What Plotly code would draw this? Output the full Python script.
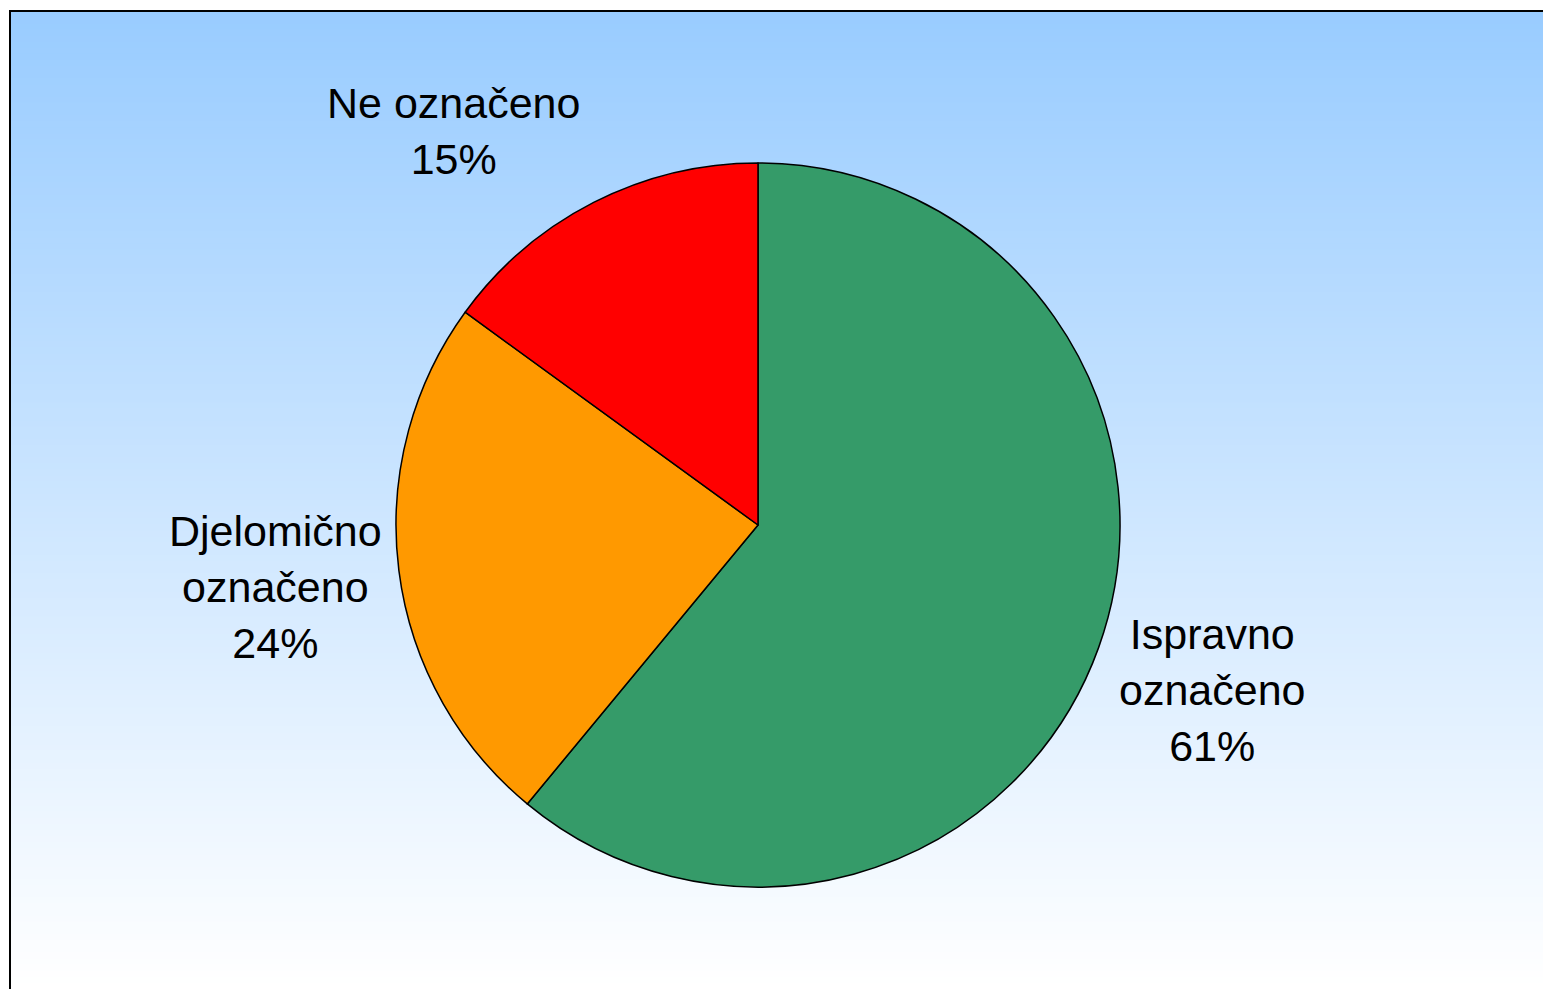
import plotly.graph_objects as go

labels = ["Ispravno<br>označeno", "Djelomično<br>označeno", "Ne označeno"]
values = [61, 24, 15]
colors = ["#359B69", "#FF9900", "#FF0000"]

# label anchor positions (pixels) for annotations
label_px = [(1212, 690), (275, 587), (453, 131)]

W, H = 1543, 989

def px(x):
    return x / W

def py(y):
    return 1 - y / H

fig = go.Figure()
fig.add_trace(go.Pie(
    labels=labels, values=values, sort=False, direction="clockwise", rotation=0,
    marker=dict(colors=colors, line=dict(color="black", width=1.5)),
    textinfo="none", hoverinfo="label+percent", showlegend=False,
    domain=dict(x=[px(396), px(1120)], y=[py(887), py(163)]),
))

shapes = []
top, bot = 11, 989
n = 160
c0 = (153, 204, 255)
c1 = (255, 255, 255)
for i in range(n):
    t = i / (n - 1)
    y0 = top + (bot - top) * i / n
    y1 = top + (bot - top) * (i + 1) / n + 1
    col = tuple(round(c0[k] + (c1[k] - c0[k]) * t) for k in range(3))
    shapes.append(dict(type="rect", xref="paper", yref="paper", layer="below",
                       x0=px(10), x1=1.01, y0=py(min(y1, bot)), y1=py(y0),
                       fillcolor="rgb(%d,%d,%d)" % col, line=dict(width=0)))
shapes.append(dict(type="rect", xref="paper", yref="paper", layer="below",
                   x0=px(10), x1=1.05, y0=-0.05, y1=py(11),
                   fillcolor="rgba(0,0,0,0)", line=dict(color="black", width=2)))

total = sum(values)
annotations = []
for lab, v, (x, y) in zip(labels, values, label_px):
    annotations.append(dict(
        text="%s<br>%d%%" % (lab, round(100 * v / total)),
        x=px(x), y=py(y), xref="paper", yref="paper",
        xanchor="center", yanchor="middle", showarrow=False, align="center",
        font=dict(family="Liberation Sans, Arial", size=43, color="black"),
    ))

fig.update_layout(
    width=W, height=H, margin=dict(l=0, r=0, t=0, b=0),
    paper_bgcolor="white", plot_bgcolor="white",
    shapes=shapes, annotations=annotations,
)
fig.write_html("out.html", config={"displayModeBar": False},
               post_script="document.body.style.margin='0';document.body.style.overflow='hidden';")
